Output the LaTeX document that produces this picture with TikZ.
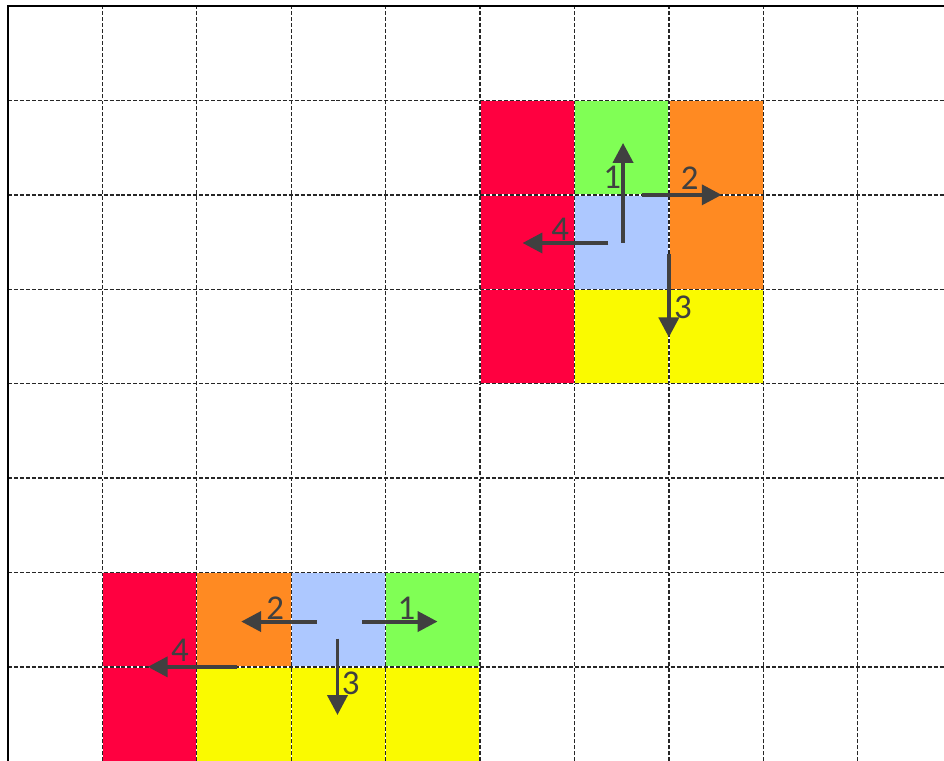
\documentclass[tikz,border=0pt]{standalone}
\usepackage{fontspec}
\setmainfont{Carlito}
\usetikzlibrary{arrows.meta}
\definecolor{cellred}{RGB}{255,0,64}
\definecolor{cellgreen}{RGB}{128,255,85}
\definecolor{cellorange}{RGB}{255,138,34}
\definecolor{cellblue}{RGB}{173,200,255}
\definecolor{cellyellow}{RGB}{250,250,0}
\definecolor{movegray}{RGB}{64,64,64}
\begin{document}
\begin{tikzpicture}[
  gridline/.style={draw=black!85, line width=0.4pt, dash pattern=on 1.2pt off 0.6pt},
  gridback/.style={draw=white, line width=0.4pt},
  move/.style={draw=movegray, line width=1.2pt, -{Triangle[length=6pt,width=6pt]}},
  num/.style={text=movegray, font=\fontsize{10.5}{12}\selectfont, inner sep=0pt}]
\useasboundingbox (-0.085,0.013) rectangle (9.915,8.064);
% upper group
\fill[cellred] (5,4) rectangle (6,7);
\fill[cellgreen] (6,6) rectangle (7,7);
\fill[cellorange] (7,5) rectangle (8,7);
\fill[cellblue] (6,5) rectangle (7,6);
\fill[cellyellow] (6,4) rectangle (8,5);
% lower group
\fill[cellred] (1,0) rectangle (2,2);
\fill[cellorange] (2,1) rectangle (3,2);
\fill[cellblue] (3,1) rectangle (4,2);
\fill[cellgreen] (4,1) rectangle (5,2);
\fill[cellyellow] (2,0) rectangle (5,1);
% grid
\foreach \x in {1,...,9} {
  \draw[gridback] (\x,0) -- (\x,8);
  \draw[gridline] (\x,0) -- (\x,8);
}
\foreach \y in {1,...,7} {
  \draw[gridback] (0,\y) -- (9.915,\y);
  \draw[gridline] (0,\y) -- (9.915,\y);
}
\draw[line width=0.6pt] (0,0) -- (0,8) -- (9.915,8);
% upper moves
\coordinate (u1a) at (6.515,5.49);
\coordinate (u1b) at (6.515,6.55);
\coordinate (u2a) at (6.72,6.0);
\coordinate (u2b) at (7.56,6.0);
\coordinate (u3a) at (7.0,5.37);
\coordinate (u3b) at (7.0,4.49);
\coordinate (u4a) at (6.36,5.49);
\coordinate (u4b) at (5.45,5.49);
\draw[move] (u1a) -- (u1b);
\draw[move] (u2a) -- (u2b);
\draw[move] (u3a) -- (u3b);
\draw[move] (u4a) -- (u4b);
\node[num] (u1) at (6.40,6.19) {1};
\node[num] (u2) at (7.22,6.18) {2};
\node[num] (u3) at (7.15,4.81) {3};
\node[num] (u4) at (5.85,5.64) {4};
% lower moves
\coordinate (l1a) at (3.75,1.48);
\coordinate (l1b) at (4.55,1.48);
\coordinate (l2a) at (3.27,1.48);
\coordinate (l2b) at (2.47,1.48);
\coordinate (l3a) at (3.49,1.30);
\coordinate (l3b) at (3.49,0.49);
\coordinate (l4a) at (2.43,1.0);
\coordinate (l4b) at (1.48,1.0);
\draw[move] (l1a) -- (l1b);
\draw[move] (l2a) -- (l2b);
\draw[move] (l3a) -- (l3b);
\draw[move] (l4a) -- (l4b);
\node[num] (l1) at (4.22,1.62) {1};
\node[num] (l2) at (2.83,1.62) {2};
\node[num] (l3) at (3.63,0.83) {3};
\node[num] (l4) at (1.82,1.18) {4};
\end{tikzpicture}
\end{document}
